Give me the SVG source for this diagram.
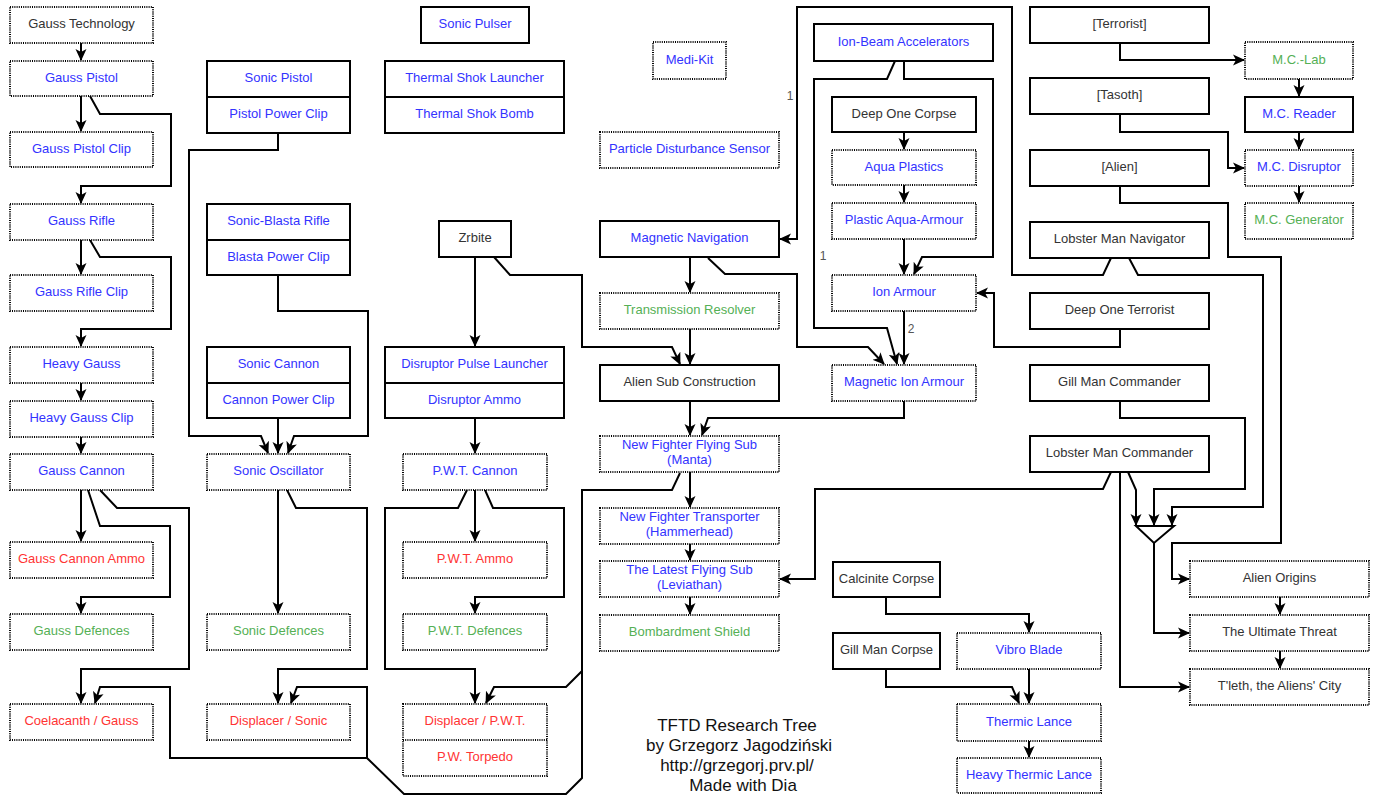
<svg xmlns="http://www.w3.org/2000/svg" width="1378" height="796" viewBox="0 0 1378 796">
<style>
.s{fill:#fff;stroke:#000;stroke-width:2}
.d{fill:#fff;stroke:#000;stroke-width:2;stroke-dasharray:1 1.2}
.dl{fill:none;stroke:#000;stroke-width:2;stroke-dasharray:1 1.2}
.sl{fill:none;stroke:#000;stroke-width:2}
text{font-family:"Liberation Sans",Arial,sans-serif;font-size:13px;text-anchor:middle;transform:translateY(-1.2px)}
.k{fill:#333}
.u{fill:#3333ff}
.r{fill:#ff3333}
.g{fill:#55b055}
.c path{fill:none;stroke:#000;stroke-width:2;marker-end:url(#a)}
.lbl{fill:#555;font-size:12px}
.title{fill:#111;font-size:17px;transform:none}
</style>
<defs>
<marker id="a" viewBox="0 0 12 12" refX="11" refY="6" markerWidth="12" markerHeight="12" markerUnits="userSpaceOnUse" orient="auto">
<path d="M0,0.5 L12,6 L0,11.5 L3,6 z" fill="#000"/>
</marker>
</defs>
<rect width="1378" height="796" fill="#fff"/>

<g class="c" id="connectors">
<path d="M81,43 V60"/>
<path d="M81,96 V131"/>
<path d="M90,96 L100,114 H171 V186 H81 V203"/>
<path d="M81,240 V274"/>
<path d="M90,240 L100,257 H171 V329 H81 V346"/>
<path d="M81,383 V400"/>
<path d="M81,437 V453"/>
<path d="M81,490 V541"/>
<path d="M88,490 L100,526 H170 V597 H81 V613"/>
<path d="M100,490 L117,508 H189 V669 H81 V703"/>
<path d="M278,133 V150 H189 V436 H261 L268,453"/>
<path d="M278,418 V453"/>
<path d="M278,275 V311 H368 V436 H294 L288,453"/>
<path d="M278,490 V613"/>
<path d="M287,490 L296,508 H367 V669 H278 V703"/>
<path d="M475,257 V346"/>
<path d="M494,257 L510,275 H582 V347 H672 L680,364"/>
<path d="M475,418 V453"/>
<path d="M475,490 V541"/>
<path d="M485,490 L493,508 H564 V597 H475 V613"/>
<path d="M467,490 L458,508 H385 V669 H475 V703"/>
<path d="M680,473 L672,490 H582 V671 L566,687 H494 L486,703"/>
<path d="M582,671 V778 L566,794 H404 L367,758 V687 H297 L291,703"/>
<path d="M367,758 H170 V687 H100 L95,703"/>
<path d="M690,257 V292"/>
<path d="M690,329 V364"/>
<path d="M690,401 V435"/>
<path d="M904,401 V418 H708 L702,435"/>
<path d="M690,472 V507"/>
<path d="M690,544 V560"/>
<path d="M690,597 V614"/>
<path d="M708,258 L725,274 H797 V347 H868 L884,364"/>
<path d="M904,61 V79 H993 V257 H922 L914,274"/>
<path d="M895,61 L887,79 H814 V328 H887 L897,364"/>
<path d="M904,132 V149"/>
<path d="M904,185 V202"/>
<path d="M904,239 V274"/>
<path d="M904,311 V364"/>
<path d="M1120,329 V347 H994 V293 H977"/>
<path d="M1111,258 L1103,275 H1012 V7 H797 V239 H780"/>
<path d="M1120,43 V60 H1244"/>
<path d="M1299,79 V96"/>
<path d="M1299,132 V149"/>
<path d="M1299,186 V202"/>
<path d="M1120,114 V132 H1228 V168 H1244"/>
<path d="M1120,186 V203 H1228 V257 H1281 V543 H1172 V579 H1189"/>
<path d="M1129,258 L1138,275 H1263 V507 H1172 V525"/>
<path d="M1120,401 V418 H1245 V489 H1154 V525"/>
<path d="M1128,472 L1136,490 V525"/>
<path d="M1111,472 L1103,489 H815 V579 H780"/>
<path d="M1120,472 V687 H1189"/>
<path d="M1154,543 V633 H1189"/>
<path d="M1280,597 V614"/>
<path d="M1280,651 V668"/>
<path d="M886,597 V614 H1029 V632"/>
<path d="M886,669 V687 H1012 L1019,703"/>
<path d="M1029,669 V703"/>
<path d="M1029,741 V757"/>
<text class="lbl" x="790" y="101">1</text>
<text class="lbl" x="823" y="261">1</text>
<text class="lbl" x="911" y="334">2</text>
</g>

<g id="gate"><path d="M1136,526 H1174 L1154,543 Z" fill="#fff" stroke="#000" stroke-width="2"/></g>

<g id="gauss_technology"><rect class="d" x="10" y="7" width="143" height="36"/><text class="k" x="81.5" y="29.5">Gauss Technology</text></g>
<g id="gauss_pistol"><rect class="d" x="10" y="61" width="143" height="35"/><text class="u" x="81.5" y="83">Gauss Pistol</text></g>
<g id="gauss_pistol_clip"><rect class="d" x="10" y="132" width="143" height="35"/><text class="u" x="81.5" y="154">Gauss Pistol Clip</text></g>
<g id="gauss_rifle"><rect class="d" x="10" y="204" width="143" height="36"/><text class="u" x="81.5" y="226.5">Gauss Rifle</text></g>
<g id="gauss_rifle_clip"><rect class="d" x="10" y="275" width="143" height="36"/><text class="u" x="81.5" y="297.5">Gauss Rifle Clip</text></g>
<g id="heavy_gauss"><rect class="d" x="10" y="347" width="143" height="36"/><text class="u" x="81.5" y="369.5">Heavy Gauss</text></g>
<g id="heavy_gauss_clip"><rect class="d" x="10" y="401" width="143" height="36"/><text class="u" x="81.5" y="423.5">Heavy Gauss Clip</text></g>
<g id="gauss_cannon"><rect class="d" x="10" y="454" width="143" height="36"/><text class="u" x="81.5" y="476.5">Gauss Cannon</text></g>
<g id="gauss_cannon_ammo"><rect class="d" x="10" y="542" width="143" height="36"/><text class="r" x="81.5" y="564.5">Gauss Cannon Ammo</text></g>
<g id="gauss_defences"><rect class="d" x="10" y="614" width="143" height="36"/><text class="g" x="81.5" y="636.5">Gauss Defences</text></g>
<g id="coelacanth_gauss"><rect class="d" x="10" y="704" width="143" height="36"/><text class="r" x="81.5" y="726.5">Coelacanth / Gauss</text></g>

<g id="sonic_pistol"><rect class="s" x="207" y="61" width="143" height="72"/><line class="sl" x1="207" y1="97" x2="350" y2="97"/><text class="u" x="278.5" y="83.5">Sonic Pistol</text><text class="u" x="278.5" y="119.5">Pistol Power Clip</text></g>
<g id="sonic_blasta_rifle"><rect class="s" x="207" y="204" width="143" height="71"/><line class="sl" x1="207" y1="240" x2="350" y2="240"/><text class="u" x="278.5" y="226.5">Sonic-Blasta Rifle</text><text class="u" x="278.5" y="262">Blasta Power Clip</text></g>
<g id="sonic_cannon"><rect class="s" x="207" y="347" width="143" height="71"/><line class="sl" x1="207" y1="383" x2="350" y2="383"/><text class="u" x="278.5" y="369.5">Sonic Cannon</text><text class="u" x="278.5" y="405">Cannon Power Clip</text></g>
<g id="sonic_oscillator"><rect class="d" x="207" y="454" width="143" height="36"/><text class="u" x="278.5" y="476.5">Sonic Oscillator</text></g>
<g id="sonic_defences"><rect class="d" x="207" y="614" width="143" height="36"/><text class="g" x="278.5" y="636.5">Sonic Defences</text></g>
<g id="displacer_sonic"><rect class="d" x="207" y="704" width="143" height="36"/><text class="r" x="278.5" y="726.5">Displacer / Sonic</text></g>

<g id="sonic_pulser"><rect class="s" x="421" y="7" width="108" height="36"/><text class="u" x="475" y="29.5">Sonic Pulser</text></g>
<g id="thermal_shok"><rect class="s" x="385" y="61" width="179" height="72"/><line class="sl" x1="385" y1="97" x2="564" y2="97"/><text class="u" x="474.5" y="83.5">Thermal Shok Launcher</text><text class="u" x="474.5" y="119.5">Thermal Shok Bomb</text></g>
<g id="zrbite"><rect class="s" x="439" y="221" width="72" height="36"/><text class="k" x="475" y="243.5">Zrbite</text></g>
<g id="disruptor_pulse_launcher"><rect class="s" x="385" y="347" width="179" height="71"/><line class="sl" x1="385" y1="383" x2="564" y2="383"/><text class="u" x="474.5" y="369.5">Disruptor Pulse Launcher</text><text class="u" x="474.5" y="405">Disruptor Ammo</text></g>
<g id="pwt_cannon"><rect class="d" x="403" y="454" width="144" height="36"/><text class="u" x="475" y="476.5">P.W.T. Cannon</text></g>
<g id="pwt_ammo"><rect class="d" x="403" y="542" width="144" height="36"/><text class="r" x="475" y="564.5">P.W.T. Ammo</text></g>
<g id="pwt_defences"><rect class="d" x="403" y="614" width="144" height="36"/><text class="g" x="475" y="636.5">P.W.T. Defences</text></g>
<g id="displacer_pwt"><rect class="d" x="403" y="704" width="144" height="72"/><line class="dl" x1="403" y1="740" x2="547" y2="740"/><text class="r" x="475" y="726.5">Displacer / P.W.T.</text><text class="r" x="475" y="762.5">P.W. Torpedo</text></g>

<g id="medi_kit"><rect class="d" x="653" y="42" width="73" height="37"/><text class="u" x="689.5" y="65">Medi-Kit</text></g>
<g id="particle_disturbance_sensor"><rect class="d" x="600" y="132" width="179" height="36"/><text class="u" x="689.5" y="154.5">Particle Disturbance Sensor</text></g>
<g id="magnetic_navigation"><rect class="s" x="600" y="221" width="179" height="36"/><text class="u" x="689.5" y="243.5">Magnetic Navigation</text></g>
<g id="transmission_resolver"><rect class="d" x="600" y="293" width="179" height="36"/><text class="g" x="689.5" y="315.5">Transmission Resolver</text></g>
<g id="alien_sub_construction"><rect class="s" x="600" y="365" width="179" height="36"/><text class="k" x="689.5" y="387.5">Alien Sub Construction</text></g>
<g id="manta"><rect class="d" x="600" y="436" width="179" height="36"/><text class="u" x="689.5" y="450.5">New Fighter Flying Sub</text><text class="u" x="689.5" y="465">(Manta)</text></g>
<g id="hammerhead"><rect class="d" x="600" y="508" width="179" height="36"/><text class="u" x="689.5" y="522.5">New Fighter Transporter</text><text class="u" x="689.5" y="537">(Hammerhead)</text></g>
<g id="leviathan"><rect class="d" x="600" y="561" width="179" height="36"/><text class="u" x="689.5" y="575.5">The Latest Flying Sub</text><text class="u" x="689.5" y="590">(Leviathan)</text></g>
<g id="bombardment_shield"><rect class="d" x="600" y="615" width="179" height="36"/><text class="g" x="689.5" y="637.5">Bombardment Shield</text></g>

<g id="ion_beam_accelerators"><rect class="s" x="814" y="24" width="179" height="37"/><text class="u" x="903.5" y="47">Ion-Beam Accelerators</text></g>
<g id="deep_one_corpse"><rect class="s" x="832" y="97" width="144" height="35"/><text class="k" x="904" y="119">Deep One Corpse</text></g>
<g id="aqua_plastics"><rect class="d" x="832" y="150" width="144" height="35"/><text class="u" x="904" y="172">Aqua Plastics</text></g>
<g id="plastic_aqua_armour"><rect class="d" x="832" y="203" width="144" height="36"/><text class="u" x="904" y="225.5">Plastic Aqua-Armour</text></g>
<g id="ion_armour"><rect class="d" x="832" y="275" width="144" height="36"/><text class="u" x="904" y="297.5">Ion Armour</text></g>
<g id="magnetic_ion_armour"><rect class="d" x="832" y="365" width="144" height="36"/><text class="u" x="904" y="387.5">Magnetic Ion Armour</text></g>

<g id="calcinite_corpse"><rect class="s" x="833" y="562" width="107" height="35"/><text class="k" x="886.5" y="584">Calcinite Corpse</text></g>
<g id="gill_man_corpse"><rect class="s" x="833" y="633" width="107" height="36"/><text class="k" x="886.5" y="655.5">Gill Man Corpse</text></g>
<g id="vibro_blade"><rect class="d" x="957" y="633" width="144" height="36"/><text class="u" x="1029" y="655.5">Vibro Blade</text></g>
<g id="thermic_lance"><rect class="d" x="957" y="704" width="144" height="37"/><text class="u" x="1029" y="727">Thermic Lance</text></g>
<g id="heavy_thermic_lance"><rect class="d" x="957" y="758" width="144" height="35"/><text class="u" x="1029" y="780">Heavy Thermic Lance</text></g>

<g id="terrorist"><rect class="s" x="1030" y="7" width="179" height="36"/><text class="k" x="1119.5" y="29.5">[Terrorist]</text></g>
<g id="tasoth"><rect class="s" x="1030" y="78" width="179" height="36"/><text class="k" x="1119.5" y="100.5">[Tasoth]</text></g>
<g id="alien"><rect class="s" x="1030" y="150" width="179" height="36"/><text class="k" x="1119.5" y="172.5">[Alien]</text></g>
<g id="lobster_man_navigator"><rect class="s" x="1030" y="222" width="179" height="36"/><text class="k" x="1119.5" y="244.5">Lobster Man Navigator</text></g>
<g id="deep_one_terrorist"><rect class="s" x="1030" y="293" width="179" height="36"/><text class="k" x="1119.5" y="315.5">Deep One Terrorist</text></g>
<g id="gill_man_commander"><rect class="s" x="1030" y="365" width="179" height="36"/><text class="k" x="1119.5" y="387.5">Gill Man Commander</text></g>
<g id="lobster_man_commander"><rect class="s" x="1030" y="436" width="179" height="36"/><text class="k" x="1119.5" y="458.5">Lobster Man Commander</text></g>

<g id="mc_lab"><rect class="d" x="1245" y="42" width="108" height="37"/><text class="g" x="1299" y="65">M.C.-Lab</text></g>
<g id="mc_reader"><rect class="s" x="1245" y="97" width="108" height="35"/><text class="u" x="1299" y="119">M.C. Reader</text></g>
<g id="mc_disruptor"><rect class="d" x="1245" y="150" width="108" height="36"/><text class="u" x="1299" y="172.5">M.C. Disruptor</text></g>
<g id="mc_generator"><rect class="d" x="1245" y="203" width="108" height="36"/><text class="g" x="1299" y="225.5">M.C. Generator</text></g>

<g id="alien_origins"><rect class="d" x="1190" y="561" width="179" height="36"/><text class="k" x="1279.5" y="583.5">Alien Origins</text></g>
<g id="ultimate_threat"><rect class="d" x="1190" y="615" width="179" height="36"/><text class="k" x="1279.5" y="637.5">The Ultimate Threat</text></g>
<g id="tleth"><rect class="d" x="1190" y="669" width="179" height="36"/><text class="k" x="1279.5" y="691.5">T'leth, the Aliens' City</text></g>

<g id="title">
<text class="title" x="737" y="731">TFTD Research Tree</text>
<text class="title" x="739" y="751">by Grzegorz Jagodziński</text>
<text class="title" x="737" y="771">http://grzegorj.prv.pl/</text>
<text class="title" x="743" y="791">Made with Dia</text>
</g>
</svg>
